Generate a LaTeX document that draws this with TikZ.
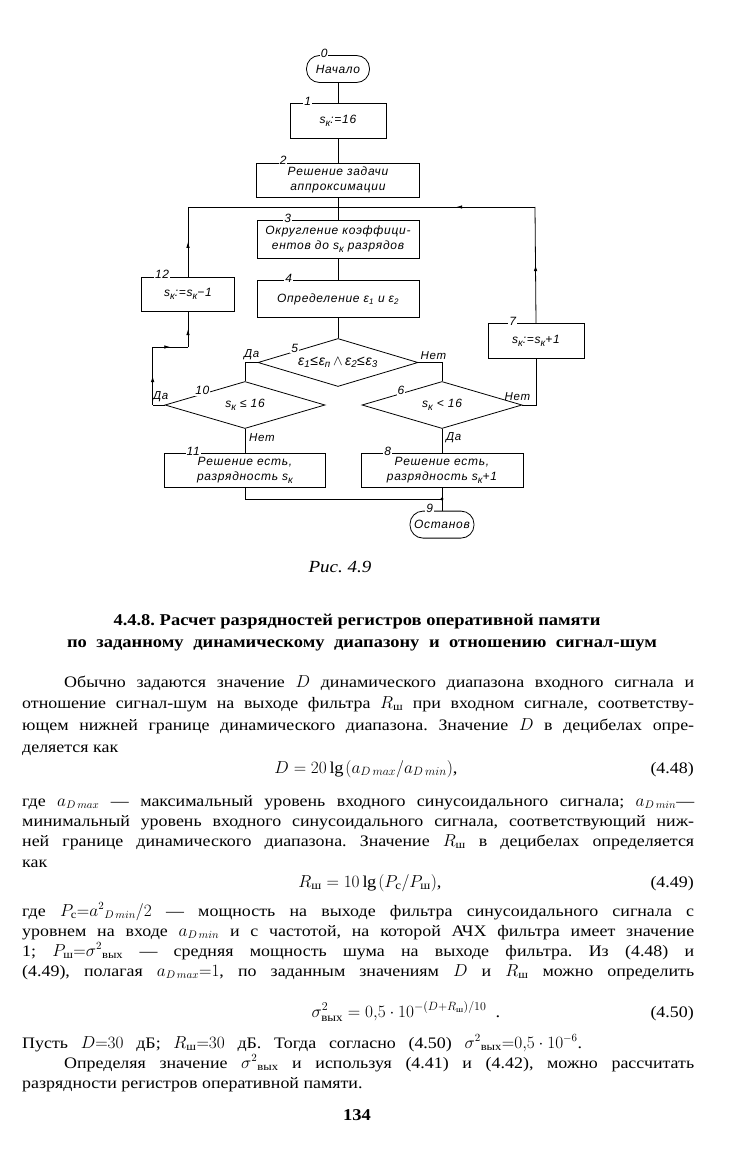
\documentclass[tikz,border=0pt]{standalone}
\usepackage{amsmath}
\usepackage{amssymb}
\usepackage{fontspec}
\setmainfont[FakeStretch=1.12]{Liberation Serif}
\newfontfamily\chartfont[LetterSpace=6]{Liberation Sans}
\usetikzlibrary{arrows.meta,positioning,calc,shapes.geometric,decorations.markings}
\newcommand{\sk}{s\raisebox{-0.4ex}{\fontsize{10}{10}\selectfont к}}
\newcommand{\jline}[2]{\makebox[#1][s]{#2}}
\newcommand{\svx}{\smash{$\sigma^{2}{}_{\text{вых}}$}}

\begin{document}
\frenchspacing
\thickmuskip=5mu\relax
\medmuskip=4mu\relax
\begin{tikzpicture}[x=1pt,y=-1pt,
    chart/.style={font=\chartfont\itshape\fontsize{12}{15}\selectfont},
    box/.style={draw,line width=0.8pt,chart,minimum width=#1,minimum height=35pt,inner sep=1pt,align=center},
    term/.style={draw,line width=0.8pt,chart,rounded corners=13pt,minimum width=#1,minimum height=27pt,inner sep=1pt},
    dia/.style={draw,line width=0.8pt,chart,diamond,aspect=3.4,minimum width=160pt,minimum height=47pt,inner sep=0pt},
    num/.style={fill=white,inner sep=1pt,font=\chartfont\itshape\fontsize{12}{12}\selectfont},
    yn/.style={inner sep=1pt,font=\chartfont\itshape\fontsize{11.5}{12}\selectfont},
    line/.style={line width=0.8pt},
    midarrow/.style={postaction={decorate},decoration={markings,mark=at position #1 with {\arrow{Latex[length=6pt,width=3.5pt]}}}},
    midarrow/.default=0.5,
    txt/.style={anchor=base west,inner sep=0pt,font=\fontsize{16}{20}\selectfont},
    eqn/.style={anchor=base,inner sep=0pt,font=\fontsize{16.5}{20}\selectfont},
    eqno/.style={anchor=base east,inner sep=0pt,font=\fontsize{16}{20}\selectfont},
    head/.style={anchor=base,inner sep=0pt,font=\bfseries\fontsize{16.5}{20}\selectfont}
  ]
    \fill[white] (0,0) rectangle (730,1150);
    \useasboundingbox (0,0) rectangle (730,1150);
    % flowchart
    \node[term=63pt] (start) at (338,69) {Начало};
    \node[box=96pt,below=20pt of start] (b1) {\sk:=16};
    \node[box=163pt,minimum height=34pt,below=24pt of b1] (b2) {Решение задачи\\аппроксимации};
    \node[box=162pt,minimum height=37pt,below=23pt of b2] (b3) {Округление коэффици-\\ентов до \sk{} разрядов};
    \node[box=162pt,minimum height=37pt,below=22pt of b3] (b4) {Определение ε\textsubscript{1} и ε\textsubscript{2}};
    \node[dia,minimum height=48pt,below=20pt of b4,font=\chartfont\itshape\fontsize{14}{15}\selectfont] (d5) {ε\textsubscript{1}≤ε\textsubscript{п}\,$\wedge$\,ε\textsubscript{2}≤ε\textsubscript{3}};
    \node[dia] (d10) at (245,405) {\sk{} ≤ 16};
    \node[dia] (d6) at (442,405) {\sk{} < 16};
    \node[box=93pt,minimum height=34pt] (b12) at (188,294) {\sk:=\sk−1};
    \node[box=96pt] (b7) at (536,341) {\sk:=\sk+1};
    \node[box=161pt,minimum height=34pt,below=24pt of d10] (b11) {Решение есть,\\разрядность \sk};
    \node[box=162pt,minimum height=34pt,below=24pt of d6] (b8) {Решение есть,\\разрядность \sk+1};
    \node[term=64pt,below=23pt of b8] (stop) {Останов};
    \node[font=\itshape\fontsize{17}{20}\selectfont] (cap) at (340,567) {Рис. 4.9};

    \coordinate (jt) at (338,207);
    \coordinate (tl) at (b12.north |- jt);
    \coordinate (tr) at (535,207);
    \coordinate (l1) at ([xshift=-12pt]d10.west);
    \coordinate (l2) at (l1 |- 0,347);
    \coordinate (l3) at (b12.south |- l2);
    \coordinate (r1) at (b7.south |- d6.east);
    \coordinate (d5l) at (d10.north |- d5.west);
    \coordinate (d5r) at (d6.north |- d5.east);
    \coordinate (jb) at (d6.south |- 0,499);
    \coordinate (jl) at (d10.south |- jb);

    \draw[line] (start) -- (b1) -- (b2) -- (b3) -- (b4) -- (d5);
    \draw[line] (d5.west) -- (d5l) -- (d10.north);
    \draw[line] (d5.east) -- (d5r) -- (d6.north);
    \draw[line] (d10) -- (b11);
    \draw[line] (d6) -- (b8);
    \draw[line] (b11) -- (jl) -- (jb);
    \draw[line] (b8) -- (stop);
    \fill (jb) circle (1.6pt);
    \draw[line] (d10.west) -- (l1);
    \draw[line,midarrow] (l1) -- (l2);
    \draw[line,midarrow] (l2) -- (l3);
    \draw[line,midarrow] (l3) -- (b12.south);
    \draw[line,midarrow] (b12.north) -- (tl);
    \draw[line] (tl) -- (jt);
    \draw[line] (d6.east) -- (r1) -- (b7.south);
    \draw[line,midarrow] (b7.north) -- (tr);
    \draw[line,midarrow=0.4] (tr) -- (jt);

    \node[num] (n0) at ([xshift=18pt,yshift=2pt]start.north west) {0};
    \node[num] (n1) at ([xshift=18pt,yshift=2pt]b1.north west) {1};
    \node[num] (n2) at ([xshift=27pt,yshift=2pt]b2.north west) {2};
    \node[num] (n3) at ([xshift=31pt,yshift=2pt]b3.north west) {3};
    \node[num] (n4) at ([xshift=32pt,yshift=2pt]b4.north west) {4};
    \node[num] (n12) at ([xshift=21pt,yshift=2pt]b12.north west) {12};
    \node[num] (n7) at ([xshift=25pt,yshift=2pt]b7.north west) {7};
    \node[num] (n11) at ([xshift=29pt,yshift=2pt]b11.north west) {11};
    \node[num] (n8) at ([xshift=27pt,yshift=2pt]b8.north west) {8};
    \node[num] (n9) at ([xshift=20pt,yshift=2pt]stop.north west) {9};
    \node[num,yshift=3pt] (n5) at ($(d5.west)!0.46!(d5.north)$) {5};
    \node[num,yshift=3pt] (n10) at ($(d10.west)!0.47!(d10.north)$) {10};
    \node[num,yshift=3pt] (n6) at ($(d6.west)!0.49!(d6.north)$) {6};

    \node[yn,anchor=south] (y5) at ([xshift=-6pt,yshift=2pt]d5.west) {Да};
    \node[yn,anchor=south] (no5) at ([xshift=15pt,yshift=2pt]d5.east) {Нет};
    \node[yn,anchor=south] (y10) at ([xshift=-4pt,yshift=2pt]d10.west) {Да};
    \node[yn,anchor=south] (no6) at ([xshift=-5pt,yshift=3pt]d6.east) {Нет};
    \node[yn,anchor=west] (no10) at ([xshift=3pt,yshift=-9pt]d10.south) {Нет};
    \node[yn,anchor=west] (y6) at ([xshift=3pt,yshift=-9pt]d6.south) {Да};

    % text of the page
    \node[head] (h1) at (357,625) {4.4.8. Расчет разрядностей регистров оперативной памяти};
    \node[head] (h2) at (362,647) {\jline{590pt}{по заданному динамическому диапазону и отношению сигнал-шум}};
    \node[txt] (p1) at (64,687) {\jline{630pt}{Обычно задаются значение $D$ динамического диапазона входного сигнала и}};
    \node[txt] (p2) at (22,708) {\jline{672pt}{отношение сигнал-шум на выходе фильтра $R_{\text{ш}}$ при входном сигнале, соответству-}};
    \node[txt] (p3) at (22,730) {\jline{672pt}{ющем нижней границе динамического диапазона. Значение $D$ в децибелах опре-}};
    \node[txt] (p4) at (22,752) {деляется как};
    \node[eqn] (e48) at (366,773) {$D=20\lg\,(a_{D\,max}/a_{D\,min})$,};
    \node[eqno] (e48n) at (694,773) {(4.48)};
    \node[txt] (p5) at (22,806) {\jline{672pt}{где $a_{D\,max}$ — максимальный уровень входного синусоидального сигнала; $a_{D\,min}$—}};
    \node[txt] (p6) at (22,826) {\jline{672pt}{минимальный уровень входного синусоидального сигнала, соответствующий ниж-}};
    \node[txt] (p7) at (22,846) {\jline{672pt}{ней границе динамического диапазона. Значение $R_{\text{ш}}$ в децибелах определяется}};
    \node[txt] (p8) at (22,867) {как};
    \node[eqn] (e49) at (370,887) {$R_{\text{ш}}=10\lg\,(P_{\text{c}}/P_{\text{ш}})$,};
    \node[eqno] (e49n) at (694,887) {(4.49)};
    \node[txt] (p9) at (22,916) {\jline{672pt}{где \smash{$P_{\text{c}}{=}a^2{}_{D\,min}/2$} — мощность на выходе фильтра синусоидального сигнала с}};
    \node[txt] (p10) at (22,936) {\jline{672pt}{уровнем на входе $a_{D\,min}$ и с частотой, на которой АЧХ фильтра имеет значение}};
    \node[txt] (p11) at (22,956) {\jline{672pt}{1; $P_{\text{ш}}{=}$\svx{} — средняя мощность шума на выходе фильтра. Из (4.48) и}};
    \node[txt] (p12) at (22,976) {\jline{672pt}{(4.49), полагая $a_{D\,max}{=}1$, по заданным значениям $D$ и $R_{\text{ш}}$ можно определить}};
    \node[eqn] (e50) at (406,1017) {\smash{$\sigma^2_{\text{вых}}=0{,}5\cdot10^{-(D+R_{\text{ш}})/10}$} \ .};
    \node[eqno] (e50n) at (694,1017) {(4.50)};
    \node[txt] (p13) at (22,1048) {\jline{560pt}{Пусть $D{=}30$ дБ; $R_{\text{ш}}{=}30$ дБ. Тогда согласно (4.50) \svx{}\smash{${=}0{,}5\cdot10^{-6}$}.}};
    \node[txt] (p14) at (64,1068) {\jline{630pt}{Определяя значение \svx{} и используя (4.41) и (4.42), можно рассчитать}};
    \node[txt] (p15) at (22,1088) {разрядности регистров оперативной памяти.};
    \node[head] (pg) at (357,1120) {134};
  \end{tikzpicture}
\end{document}
